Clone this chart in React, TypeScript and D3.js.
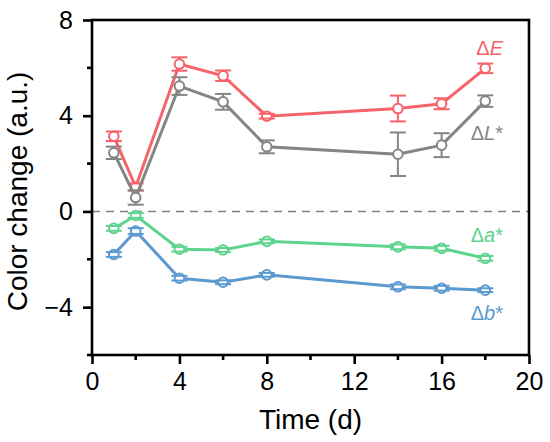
import React, { useRef, useEffect } from "react";
import * as d3 from "d3";

// time points (days)
const days = [1, 2, 4, 6, 8, 14, 16, 18];

const deltaE = [3.14, 1.02, 6.16, 5.67, 3.98, 4.3, 4.5, 5.98];
const deltaEErr = [0.2, 0.15, 0.28, 0.22, 0.1, 0.54, 0.23, 0.2];
const deltaL = [2.45, 0.58, 5.24, 4.58, 2.7, 2.39, 2.77, 4.61];
const deltaLErr = [0.26, 0.3, 0.37, 0.33, 0.27, 0.91, 0.5, 0.24];
const deltaA = [-0.71, -0.17, -1.58, -1.61, -1.25, -1.48, -1.54, -1.96];
const deltaAErr = [0.1, 0.1, 0.1, 0.08, 0.08, 0.1, 0.1, 0.1];
const deltaB = [-1.8, -0.82, -2.79, -2.96, -2.65, -3.15, -3.21, -3.29];
const deltaBErr = [0.1, 0.12, 0.1, 0.08, 0.08, 0.1, 0.1, 0.08];

const xTicks = [0, 4, 8, 12, 16, 20];
const xMinor = [2, 6, 10, 14, 18];
const yTicks = [-4, 0, 4, 8];
const yMinor = [-6, -2, 2, 6];

const series = [
  { name: "E", star: false, values: deltaE, err: deltaEErr, color: "#f6636a", labelY: 55 },
  { name: "L", star: true, values: deltaL, err: deltaLErr, color: "#858585", labelY: 140 },
  { name: "a", star: true, values: deltaA, err: deltaAErr, color: "#5ed38d", labelY: 242 },
  { name: "b", star: true, values: deltaB, err: deltaBErr, color: "#5b99cf", labelY: 320 },
];

const App: React.FC = () => {
  const svgRef = useRef<SVGSVGElement | null>(null);

  useEffect(() => {
    if (!svgRef.current) return;
    const svg = d3.select(svgRef.current);
    svg.selectAll("*").remove();

    const font = "'Liberation Sans', Arial, sans-serif";
    const left = 92, right = 529, top = 20, bottom = 355;

    const x = d3.scaleLinear().domain([0, 20]).range([left, right]);
    const y = d3.scaleLinear().domain([-6, 8]).range([bottom, top]);

    // zero line
    svg
      .append("line")
      .attr("x1", left)
      .attr("x2", right)
      .attr("y1", y(0))
      .attr("y2", y(0))
      .attr("stroke", "#808080")
      .attr("stroke-width", 1.5)
      .attr("stroke-dasharray", "8 6");

    const line = d3
      .line<number>()
      .x((_, i) => x(days[i]))
      .y((d) => y(d));

    const r = 4.8;
    series.forEach((s) => {
      svg
        .append("path")
        .datum(s.values)
        .attr("fill", "none")
        .attr("stroke", s.color)
        .attr("stroke-width", 3)
        .attr("d", line);

      const g = svg.append("g");
      s.values.forEach((v, i) => {
        const cx = x(days[i]);
        const cy = y(v);
        g.append("circle")
          .attr("cx", cx)
          .attr("cy", cy)
          .attr("r", r)
          .attr("fill", "#fff")
          .attr("stroke", s.color)
          .attr("stroke-width", 2);

        const yHi = y(v + s.err[i]);
        const yLo = y(v - s.err[i]);
        [yHi, yLo].forEach((yy) => {
          g.append("line")
            .attr("x1", cx - 8)
            .attr("x2", cx + 8)
            .attr("y1", yy)
            .attr("y2", yy)
            .attr("stroke", s.color)
            .attr("stroke-width", 2);
        });
        if (cy - yHi > r) {
          g.append("line")
            .attr("x1", cx)
            .attr("x2", cx)
            .attr("y1", yHi)
            .attr("y2", cy - r)
            .attr("stroke", s.color)
            .attr("stroke-width", 2);
          g.append("line")
            .attr("x1", cx)
            .attr("x2", cx)
            .attr("y1", cy + r)
            .attr("y2", yLo)
            .attr("stroke", s.color)
            .attr("stroke-width", 2);
        }
      });

      // series label
      const t = svg
        .append("text")
        .attr("x", 503)
        .attr("y", s.labelY)
        .attr("text-anchor", "end")
        .attr("font-family", font)
        .attr("font-size", 20)
        .attr("fill", s.color);
      t.append("tspan").text("Δ");
      t.append("tspan").attr("font-style", "italic").text(s.name);
      if (s.star) t.append("tspan").text("*");
    });

    // frame
    svg
      .append("rect")
      .attr("x", left)
      .attr("y", top)
      .attr("width", right - left)
      .attr("height", bottom - top)
      .attr("fill", "none")
      .attr("stroke", "#000")
      .attr("stroke-width", 2.6);

    // x axis
    const xAxis = svg.append("g").attr("transform", `translate(0,${bottom})`);
    xAxis
      .call(d3.axisBottom(x).tickValues(xTicks).tickSize(9).tickPadding(8).tickFormat(d3.format("d")))
      .call((g) => g.select(".domain").remove())
      .call((g) => g.selectAll(".tick line").attr("stroke", "#000").attr("stroke-width", 2.6))
      .call((g) =>
        g.selectAll(".tick text").attr("font-size", 25).attr("font-family", font).attr("fill", "#000")
      );
    xAxis
      .selectAll(".minor")
      .data(xMinor)
      .enter()
      .append("line")
      .attr("x1", (d) => x(d))
      .attr("x2", (d) => x(d))
      .attr("y1", 0)
      .attr("y2", 5)
      .attr("stroke", "#000")
      .attr("stroke-width", 2.6);

    // y axis
    const yAxis = svg.append("g").attr("transform", `translate(${left},0)`);
    yAxis
      .call(
        d3
          .axisLeft(y)
          .tickValues(yTicks)
          .tickSize(9)
          .tickPadding(10)
          .tickFormat((d) => d3.format("d")(d as number).replace("-", "−"))
      )
      .call((g) => g.select(".domain").remove())
      .call((g) => g.selectAll(".tick line").attr("stroke", "#000").attr("stroke-width", 2.6))
      .call((g) =>
        g.selectAll(".tick text").attr("font-size", 25).attr("font-family", font).attr("fill", "#000")
      );
    yAxis
      .selectAll(".minor")
      .data(yMinor)
      .enter()
      .append("line")
      .attr("x1", -5)
      .attr("x2", 0)
      .attr("y1", (d) => y(d))
      .attr("y2", (d) => y(d))
      .attr("stroke", "#000")
      .attr("stroke-width", 2.6);

    // titles
    svg
      .append("text")
      .attr("x", (left + right) / 2)
      .attr("y", 429)
      .attr("text-anchor", "middle")
      .attr("font-family", font)
      .attr("font-size", 28)
      .text("Time (d)");

    svg
      .append("text")
      .attr("transform", `translate(27,${(top + bottom) / 2 + 4}) rotate(-90)`)
      .attr("text-anchor", "middle")
      .attr("font-family", font)
      .attr("font-size", 28)
      .text("Color change (a.u.)");
  }, []);

  return (
    <svg
      ref={svgRef}
      width={550}
      height={442}
      style={{ position: "absolute", left: 0, top: 0, background: "#fff" }}
    />
  );
};

export default App;
